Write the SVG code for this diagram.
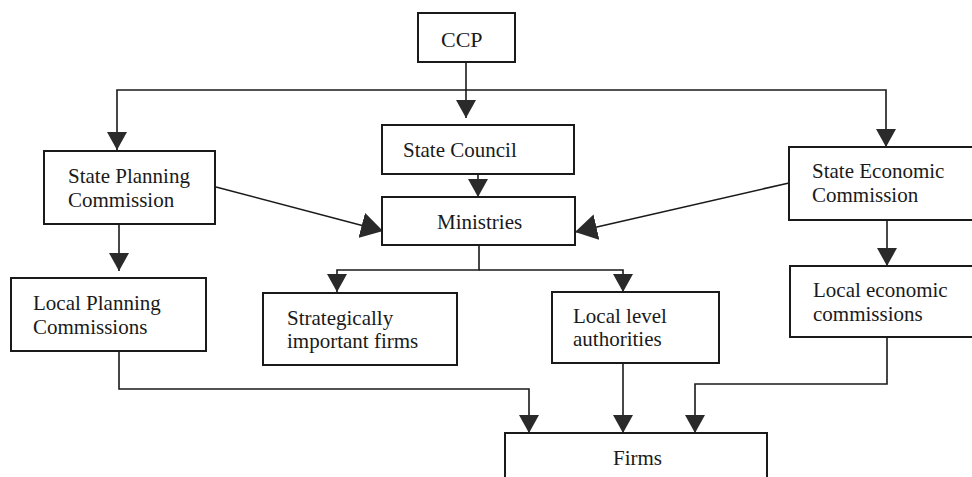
<svg xmlns="http://www.w3.org/2000/svg" width="972" height="477" viewBox="0 0 972 477">
  <style>
    .box { fill: #ffffff; stroke: #1a1a1a; stroke-width: 2; }
    .lbl { font-family: "Liberation Serif", "Times New Roman", serif; font-size: 21px; fill: #1a1a1a; }
    .con { fill: none; stroke: #1a1a1a; stroke-width: 1.6; }
  </style>
  <defs>
    <marker id="arr" markerUnits="userSpaceOnUse" viewBox="0 0 18 20" markerWidth="18" markerHeight="20" refX="18" refY="10" orient="auto">
      <path d="M0,0 L18,10 L0,20 z" fill="#2a2a2a"/>
    </marker>
    <marker id="arrBig" markerUnits="userSpaceOnUse" viewBox="0 0 22 26" markerWidth="22" markerHeight="26" refX="22" refY="13" orient="auto">
      <path d="M0,0 L22,13 L0,26 z" fill="#2a2a2a"/>
    </marker>
  </defs>
  <rect width="972" height="477" fill="#ffffff"/>

  <g id="connectors">
    <path class="con" d="M466,62 V118" marker-end="url(#arr)"/>
    <path class="con" d="M466,90 H117 V150" marker-end="url(#arr)"/>
    <path class="con" d="M466,90 H886 V147" marker-end="url(#arr)"/>
    <path class="con" d="M478,174 V197" marker-end="url(#arr)"/>
    <path class="con" d="M216,187 L383,231" marker-end="url(#arrBig)"/>
    <path class="con" d="M789,183 L575,232" marker-end="url(#arrBig)"/>
    <path class="con" d="M119,224 V271" marker-end="url(#arr)"/>
    <path class="con" d="M479,245 V270 H337 V292" marker-end="url(#arr)"/>
    <path class="con" d="M479,270 H623 V292" marker-end="url(#arr)"/>
    <path class="con" d="M887,220 V266" marker-end="url(#arr)"/>
    <path class="con" d="M119,342 V389 H529 V433" marker-end="url(#arr)"/>
    <path class="con" d="M623,363 V433" marker-end="url(#arr)"/>
    <path class="con" d="M887,337 V384 H695 V433" marker-end="url(#arr)"/>
  </g>

  <g id="ccp">
    <rect class="box" x="418" y="13" width="97" height="49"/>
    <text class="lbl" x="441" y="47" style="font-size:22px">CCP</text>
  </g>
  <g id="state-council">
    <rect class="box" x="382" y="125" width="192" height="49"/>
    <text class="lbl" x="403" y="157">State Council</text>
  </g>
  <g id="ministries">
    <rect class="box" x="382" y="197" width="193" height="48"/>
    <text class="lbl" x="437" y="229">Ministries</text>
  </g>
  <g id="state-planning-commission">
    <rect class="box" x="44" y="151" width="171" height="73"/>
    <text class="lbl" x="68" y="183">State Planning</text>
    <text class="lbl" x="68" y="207">Commission</text>
  </g>
  <g id="state-economic-commission">
    <rect class="box" x="789" y="147" width="200" height="73"/>
    <text class="lbl" x="812" y="178">State Economic</text>
    <text class="lbl" x="812" y="202">Commission</text>
  </g>
  <g id="local-planning-commissions">
    <rect class="box" x="11" y="278" width="195" height="73"/>
    <text class="lbl" x="33" y="310">Local Planning</text>
    <text class="lbl" x="33" y="334">Commissions</text>
  </g>
  <g id="strategically-important-firms">
    <rect class="box" x="263" y="293" width="194" height="72"/>
    <text class="lbl" x="287" y="325">Strategically</text>
    <text class="lbl" x="287" y="348">important firms</text>
  </g>
  <g id="local-level-authorities">
    <rect class="box" x="552" y="292" width="167" height="71"/>
    <text class="lbl" x="573" y="323">Local level</text>
    <text class="lbl" x="573" y="346">authorities</text>
  </g>
  <g id="local-economic-commissions">
    <rect class="box" x="790" y="266" width="200" height="71"/>
    <text class="lbl" x="813" y="297">Local economic</text>
    <text class="lbl" x="813" y="321">commissions</text>
  </g>
  <g id="firms">
    <rect class="box" x="505" y="433" width="262" height="60"/>
    <text class="lbl" x="613" y="465">Firms</text>
  </g>
</svg>
